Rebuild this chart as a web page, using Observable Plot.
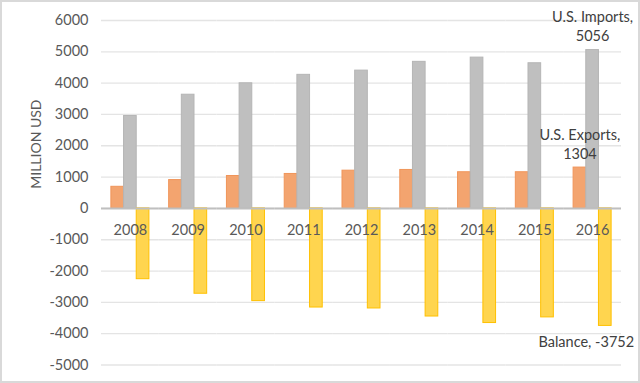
<!DOCTYPE html>
<html>
<head>
<meta charset="utf-8">
<script src="https://cdn.jsdelivr.net/npm/d3@7"></script>
<script src="https://cdn.jsdelivr.net/npm/@observablehq/plot@0.6"></script>
<style>
  html, body { margin: 0; padding: 0; background: #fff; }
  #chart svg { display: block; outline: 2px solid #d9d9d9; outline-offset: -2px; }
</style>
</head>
<body>
<div id="chart"></div>
<script>
const years = [2008, 2009, 2010, 2011, 2012, 2013, 2014, 2015, 2016];
const seriesNames = ["U.S. Exports", "U.S. Imports", "Balance"];
const exportsVals = [690, 905, 1035, 1100, 1205, 1228, 1155, 1155, 1304];
const importsVals = [2950, 3630, 3995, 4265, 4400, 4680, 4815, 4635, 5056];
const balanceVals = [-2260, -2725, -2960, -3165, -3195, -3452, -3660, -3480, -3752];
const yTicks = [-5000, -4000, -3000, -2000, -1000, 0, 1000, 2000, 3000, 4000, 5000, 6000];
const yTitle = "MILLION USD";

const seriesValues = [exportsVals, importsVals, balanceVals];
const fills = ["#f3a46f", "#bfbfbf", "#ffd54f"];
const strokes = ["#f0955a", "#b5b5b5", "#ffc000"];

const rows = seriesNames.map((name, s) =>
  years.map((year, i) => ({year, series: name, value: seriesValues[s][i]}))
);
const last = years.length - 1;

const chart = Plot.plot({
  width: 640,
  height: 383,
  marginLeft: 101,
  marginRight: 19,
  marginTop: 20,
  marginBottom: 18.5,
  style: {fontFamily: "Lato, sans-serif", fontSize: "14.5px", color: "#595959", background: "white"},
  fx: {domain: years, paddingInner: 0, paddingOuter: 0, round: false, axis: null},
  x: {domain: seriesNames, paddingInner: 0, paddingOuter: 0.78, round: false, axis: null},
  y: {domain: [-5000, 6000]},
  marks: [
    Plot.gridY(yTicks, {stroke: "#e4e4e4", strokeOpacity: 1, strokeWidth: 1.3}),
    Plot.axisY(yTicks, {tickSize: 0, tickPadding: 13, tickFormat: d => String(d), label: null}),
    Plot.text([yTitle], {
      fx: () => years[0], frameAnchor: "left", rotate: -90, dx: -65, dy: -4,
      text: d => d, fontSize: 14, fill: "#595959"
    }),
    ...rows.map((r, s) => Plot.barY(r, {
      fx: "year", x: "series", y: "value",
      fill: fills[s], stroke: strokes[s], strokeWidth: 1
    })),
    Plot.ruleY([0], {stroke: "#bfbfbf", strokeWidth: 2}),
    Plot.text(years, {fx: d => d, y: 0, text: d => String(d), dy: 22, fill: "#595959"}),
    Plot.text([rows[1][last]], {
      fx: "year", x: "series", y: "value", text: d => `${d.series},\n${d.value}`,
      lineAnchor: "bottom", dy: -9, lineHeight: 1.3, fill: "#404040"
    }),
    Plot.text([rows[0][last]], {
      fx: "year", x: "series", y: "value", text: d => `${d.series},\n${d.value}`,
      lineAnchor: "bottom", dy: -9, lineHeight: 1.3, fill: "#404040"
    }),
    Plot.text([rows[2][last]], {
      fx: "year", x: "series", y: "value", text: d => `${d.series}, ${d.value}`,
      lineAnchor: "top", dy: 11, dx: -19, fill: "#404040"
    })
  ]
});
document.getElementById("chart").append(chart);
</script>
</body>
</html>
